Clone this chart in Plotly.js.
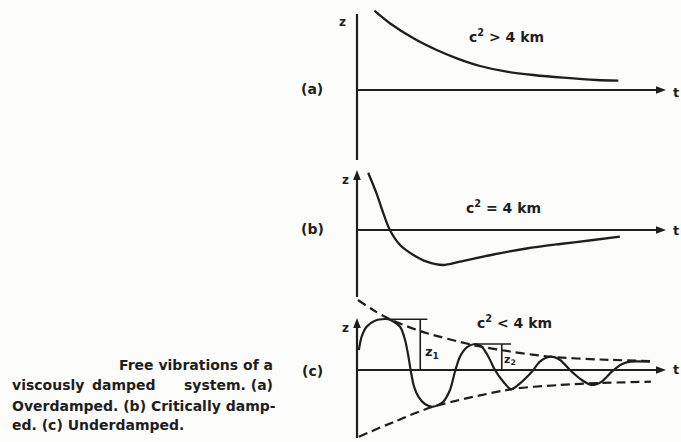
<!DOCTYPE html>
<html>
<head>
<meta charset="utf-8">
<script src="https://cdn.plot.ly/plotly-3.0.1.min.js"></script>
<style>
  html, body { margin: 0; padding: 0; background: #fcfcfb; }
  #fig { width: 681px; height: 442px; }
</style>
</head>
<body>
<div id="fig"></div>
<script>
// (a) overdamped: monotonic decay towards the time axis
const tOver = [0.56, 1.06, 1.82, 2.57, 3.22, 3.97, 4.83, 5.69, 6.66, 7.73, 8.43];
const zOver = [7.93, 6.67, 5.17, 4.0, 3.17, 2.4, 1.83, 1.5, 1.23, 1.0, 0.93];

// (b) critically damped: one overshoot, then slow creep back
const tCrit = [0.36, 0.63, 0.85, 1.06, 1.39, 1.82, 2.25, 2.78, 3.32, 4.40, 5.47, 6.55, 7.62, 8.48];
const zCrit = [5.73, 3.67, 1.67, 0.0, -1.5, -2.5, -3.17, -3.5, -3.17, -2.45, -1.85, -1.4, -1.0, -0.67];

// (c) underdamped: decaying oscillation
const tUnder = [0.06, 0.15, 0.31, 0.58, 1.01, 1.39, 1.55, 1.66, 1.73, 1.84, 1.98, 2.19, 2.46, 2.78, 3.0,
                3.16, 3.32, 3.54, 3.81, 4.02, 4.24, 4.45, 4.72, 4.97, 5.26, 5.64, 5.9, 6.23, 6.55, 6.87,
                7.25, 7.57, 7.89, 8.22, 8.54, 8.81, 9.45];
const zUnder = [2.0, 3.33, 4.33, 4.93, 5.07, 4.33, 3.0, 1.33, 0.0, -1.67, -2.67, -3.4, -3.67, -3.17, -2.0,
                -0.17, 1.33, 2.27, 2.6, 2.33, 1.33, 0.0, -1.17, -1.93, -1.33, -0.17, 0.83, 1.33, 1.0, 0.0,
                -1.0, -1.5, -1.17, -0.17, 0.57, 0.83, 0.83];

// decay envelopes of the underdamped motion
const tEnvUp = [0.03, 0.52, 1.0, 2.03, 3.74, 4.94, 6.32, 7.84, 9.45];
const zEnvUp = [7.0, 6.0, 5.17, 3.9, 2.5, 1.85, 1.3, 1.05, 0.9];
const tEnvLo = [0.06, 1.26, 2.46, 5.03, 6.55, 7.84, 9.48];
const zEnvLo = [-6.67, -5.1, -3.67, -1.9, -1.5, -1.3, -1.17];

const panelTags = ['(a)', '(b)', '(c)'];
const conditions = ['c<sup>2</sup> &gt; 4 km', 'c<sup>2</sup> = 4 km', 'c<sup>2</sup> &lt; 4 km'];
const captionLines = [
  ['Free vibrations of a'],
  ['viscously', 'damped', 'system. (a)'],
  ['Overdamped. (b) Critically damp-'],
  ['ed. (c) Underdamped.']
];

// ---- geometry (page pixels) ----
const W = 681, H = 442;
const X0 = 357, PX_T = 31, PX_Z = 10;
const xRange = [-0.5, 10.3];
const panels = [
  { base: 90,  top: 8,   bottom: 162, ax: 'y'  },
  { base: 230, top: 166, bottom: 300, ax: 'y2' },
  { base: 370, top: 296, bottom: 440, ax: 'y3' }
];
const INK = '#1e1e1e';
const px = v => v / W;
const py = v => 1 - v / H;

function yAxisFor(p) {
  return {
    visible: false, fixedrange: true,
    domain: [py(p.bottom), py(p.top)],
    range: [(p.base - p.bottom) / PX_Z, (p.base - p.top) / PX_Z]
  };
}

const line = (w, dash) => ({ color: INK, width: w, shape: 'spline', smoothing: 0.8, dash: dash || 'solid' });

const traces = [
  { x: tOver, y: zOver, yaxis: 'y', mode: 'lines', line: line(2.3) },
  { x: tCrit, y: zCrit, yaxis: 'y2', mode: 'lines', line: line(2.3) },
  { x: tUnder, y: zUnder, yaxis: 'y3', mode: 'lines', line: line(2.2) },
  { x: tEnvUp, y: zEnvUp, yaxis: 'y3', mode: 'lines', line: line(2.2, '9px,5px') },
  { x: tEnvLo, y: zEnvLo, yaxis: 'y3', mode: 'lines', line: line(2.2, '9px,5px') }
];

// successive amplitudes z1, z2 marked at the first two crests
const crests = [];
for (let i = 1; i < zUnder.length - 1 && crests.length < 2; i++) {
  if (zUnder[i] > 0 && zUnder[i] > zUnder[i - 1] && zUnder[i] >= zUnder[i + 1]) crests.push(i);
}
const markExt = [[1.26, 1.03], [1.16, 0.86]];   // [ledge length, offset of the measuring line] in t units
crests.forEach((ci, k) => {
  const tc = tUnder[ci], zc = zUnder[ci];
  const tv = tc + markExt[k][1];
  traces.push({
    x: [tc, tc + markExt[k][0], null, tv, tv],
    y: [zc, zc, null, zc, 0],
    yaxis: 'y3', mode: 'lines',
    line: { color: INK, width: 1.6 }
  });
});

// ---- axes: lines plus filled arrowheads, all as shapes ----
const shapes = [];
const axLine = { color: INK, width: 2.2 };
const tEnd = (666 - X0) / PX_T;
const headLen = 10, headHalf = 3.8;   // arrowhead size in pixels
function headRight(yref, t, z) {
  const tb = t - headLen / PX_T, dz = headHalf / PX_Z;
  return { type: 'path', xref: 'x', yref: yref, line: { width: 0 }, fillcolor: INK,
           path: `M${t},${z} L${tb},${z + dz} L${tb},${z - dz} Z` };
}
function headUp(yref, t, z) {
  const zb = z - headLen / PX_Z, dt = headHalf / PX_T;
  return { type: 'path', xref: 'x', yref: yref, line: { width: 0 }, fillcolor: INK,
           path: `M${t},${z} L${t - dt},${zb} L${t + dt},${zb} Z` };
}
panels.forEach(p => {
  shapes.push({ type: 'line', xref: 'x', yref: p.ax, x0: 0, x1: tEnd - 4 / PX_T, y0: 0, y1: 0, line: axLine });
  shapes.push(headRight(p.ax, tEnd, 0));
});
// vertical axes: (a) plain, (b) and (c) with arrowheads
const vAxes = [
  { p: panels[0], top: 14,  bottom: 160, arrow: false },
  { p: panels[1], top: 170, bottom: 297, arrow: true },
  { p: panels[2], top: 318, bottom: 438, arrow: true }
];
vAxes.forEach(v => {
  const zt = (v.p.base - v.top) / PX_Z, zb = (v.p.base - v.bottom) / PX_Z;
  shapes.push({ type: 'line', xref: 'x', yref: v.p.ax, x0: 0, x1: 0, y0: zb,
                y1: v.arrow ? zt - 4 / PX_Z : zt, line: axLine });
  if (v.arrow) shapes.push(headUp(v.p.ax, 0, zt));
});

// ---- text ----
const FONT = '"DejaVu Sans", "Open Sans", sans-serif';
const annotations = [];
function label(text, x, y, size, anchor, weight) {
  return { text: text, xref: 'paper', yref: 'paper', x: px(x), y: py(y), showarrow: false,
    xanchor: anchor || 'center', yanchor: 'middle',
    font: { family: FONT, size: size, color: INK, weight: weight || 700 } };
}
const tagPos = [89, 229, 371];
panelTags.forEach((t, i) => annotations.push(label(t, 312, tagPos[i], 14)));
const condPos = [[506, 36], [503, 207], [514, 322]];
conditions.forEach((t, i) => annotations.push(label(t, condPos[i][0], condPos[i][1], 14)));
[[342, 22], [345, 180], [345, 328]].forEach(p => annotations.push(label('z', p[0], p[1], 12)));
[92, 230, 369].forEach(y => annotations.push(label('t', 671, y, 13, 'left')));
annotations.push(label('z<sub>1</sub>', 432, 352, 13));
annotations.push(label('z<sub>2</sub>', 510, 360, 11));

// caption block, justified to x = 10 … 275
const capY = [365, 385, 406, 425];
const CAP = 14;
annotations.push(label(captionLines[0][0], 275, capY[0], CAP, 'right'));
annotations.push(label(captionLines[1][0], 10, capY[1], CAP, 'left'));
annotations.push(label(captionLines[1][1], 124, capY[1], CAP, 'center'));
annotations.push(label(captionLines[1][2], 275, capY[1], CAP, 'right'));
annotations.push(label(captionLines[2][0], 10, capY[2], CAP, 'left'));
annotations.push(label(captionLines[3][0], 10, capY[3], CAP, 'left'));

const layout = {
  width: W, height: H,
  margin: { l: 0, r: 0, t: 0, b: 0 },
  paper_bgcolor: '#fcfcfb', plot_bgcolor: 'rgba(0,0,0,0)',
  showlegend: false, hovermode: false,
  xaxis: { visible: false, fixedrange: true, range: xRange,
           domain: [px(X0 + xRange[0] * PX_T), px(X0 + xRange[1] * PX_T)] },
  yaxis: yAxisFor(panels[0]),
  yaxis2: yAxisFor(panels[1]),
  yaxis3: yAxisFor(panels[2]),
  shapes: shapes,
  annotations: annotations
};

Plotly.newPlot('fig', traces, layout, { staticPlot: true, displayModeBar: false });
</script>
</body>
</html>
